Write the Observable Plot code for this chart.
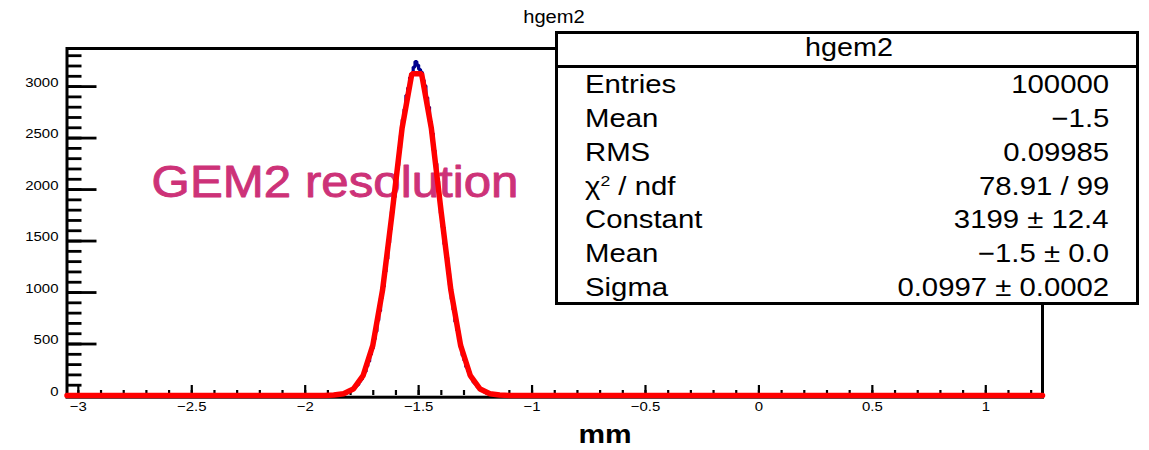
<!DOCTYPE html>
<html>
<head>
<meta charset="utf-8">
<script src="https://cdn.jsdelivr.net/npm/d3@7"></script>
<script src="https://cdn.jsdelivr.net/npm/@observablehq/plot@0.6"></script>
<style>
  html, body { margin: 0; padding: 0; background: #fff; }
  #wrap { position: relative; width: 1149px; height: 450px; overflow: hidden; font-family: "Liberation Sans", Arial, Helvetica, sans-serif; color: #000; }
  #wrap svg { position: absolute; left: 0; top: 0; }
  .t { position: absolute; white-space: nowrap; }
  #stats { position: absolute; left: 555px; top: 31px; width: 584px; height: 274px; box-sizing: border-box; border: 3px solid #000; background: #fff; }
  #stats .head { position: absolute; left: 0; right: 0; top: 0; height: 31px; border-bottom: 3px solid #000; }
  sup { font-size: 60%; vertical-align: 0; position: relative; top: -0.55em; }
</style>
</head>
<body>
<div id="wrap"></div>
<script>
// ---- data ----
const title = "hgem2";
const xTitle = "mm";
const annotation = "GEM2 resolution";

const xDomain = [-3.05, 1.25];
const yDomain = [0, 3370];
const xTicks = [-3, -2.5, -2, -1.5, -1, -0.5, 0, 0.5, 1];
const xTickLabels = ["\u22123", "\u22122.5", "\u22122", "\u22121.5", "\u22121", "\u22120.5", "0", "0.5", "1"];
const xMinor = [-3, -2.9, -2.8, -2.7, -2.6, -2.5, -2.4, -2.3, -2.2, -2.1, -2, -1.9, -1.8, -1.7, -1.6, -1.5, -1.4, -1.3, -1.2, -1.1, -1, -0.9, -0.8, -0.7, -0.6, -0.5, -0.4, -0.3, -0.2, -0.1, 0, 0.1, 0.2, 0.3, 0.4, 0.5, 0.6, 0.7, 0.8, 0.9, 1, 1.1, 1.2];
const yTicks = [0, 500, 1000, 1500, 2000, 2500, 3000];
const yTickLabels = ["0", "500", "1000", "1500", "2000", "2500", "3000"];
const yMinor = [0,100,200,300,400,500,600,700,800,900,1000,1100,1200,1300,1400,1500,1600,1700,1800,1900,2000,2100,2200,2300,2400,2500,2600,2700,2800,2900,3000,3100,3200,3300];

// histogram (bin counts, bins of width 0.008 starting at -1.908; zero elsewhere)
const binLo = -1.908;
const binWidth = 0.008;
const counts = [
  1,2,1,3,4,6,7,9,13,15,22,26,37,42,57,67,89,104,134,157,197,230,284,330,399,
  458,546,621,729,820,948,1057,1201,1325,1484,1618,1788,1925,2099,2234,2404,2526,2680,2781,2915,2988,3088,3126,3190,3243,
  3210,3168,3142,3064,3009,2893,2801,2658,2546,2381,2252,2081,1943,1770,1634,1468,1340,1186,1070,934,
  833,716,633,536,468,389,339,276,238,190,164,128,110,84,71,53,46,33,28,19,17,11,10,6,5,3,3,2,1,1
];

// Gaussian fit, as drawn (sampled points)
const fitX = [-3.05, -1.96, -1.917, -1.874, -1.831, -1.788, -1.745, -1.702, -1.659, -1.616, -1.573, -1.530, -1.487, -1.444, -1.401, -1.358, -1.315, -1.272, -1.229, -1.186, -1.143, -1.100, -1.057, 1.25];
const fitY = [0, 0, 1, 4, 17, 63, 192, 487, 1024, 1789, 2595, 3125, 3125, 2595, 1789, 1024, 487, 192, 63, 17, 4, 1, 0, 0];

// statistics box
const statsTitle = "hgem2";
const statLabels = ["Entries", "Mean", "RMS", "\u03C7<sup>2</sup> / ndf", "Constant", "Mean", "Sigma"];
const statValues = ["100000", "\u22121.5", "0.09985", "78.91 / 99", "3199 \u00B1 12.4", "\u22121.5 \u00B1 0.0", "0.0997 \u00B1 0.0002"];

// ---- build ----
const W = 1149, H = 450;
const mL = 66.5, mR = 107, mT = 48, mB = 55;
const FW = W - mL - mR, FH = H - mT - mB;
const SX = 1.15;      // horizontal text stretch of the reference
const SX_ANN = 1.095; // stretch of the annotation

const histPts = [{x: xDomain[0], y: 0}];
counts.forEach((c, i) => histPts.push({x: binLo + i * binWidth, y: c}));
histPts.push({x: binLo + counts.length * binWidth, y: 0});
histPts.push({x: xDomain[1], y: 0});

const fitPts = fitX.map((x, i) => ({x, y: fitY[i]}));

const chart = Plot.plot({
  width: W, height: H,
  marginLeft: mL, marginRight: mR, marginTop: mT, marginBottom: mB,
  x: {domain: xDomain, axis: null, label: null},
  y: {domain: yDomain, axis: null, label: null},
  style: {fontFamily: "Liberation Sans, Arial, Helvetica, sans-serif", background: "transparent", overflow: "visible"},
  marks: [
    Plot.text([annotation], {x: -2.677, y: 1925, text: d => d, textAnchor: "start", fontSize: 45, fill: "#cd3278", stroke: "#cd3278", strokeWidth: 0.9}),
    Plot.line(histPts, {x: "x", y: "y", curve: "step-after", stroke: "#00008f", strokeWidth: 3.2, strokeLinejoin: "miter"}),
    Plot.frame({stroke: "#000", strokeWidth: 3, insetBottom: -1.7}),
    Plot.tickY(yMinor, {y: d => d, stroke: "#000", strokeWidth: 2.8, insetRight: FW - 15}),
    Plot.tickY(yTicks, {y: d => d, stroke: "#000", strokeWidth: 2.8, insetRight: FW - 30}),
    Plot.tickX(xMinor, {x: d => d, stroke: "#000", strokeWidth: 2.2, insetTop: FH - 5}),
    Plot.tickX(xTicks, {x: d => d, stroke: "#000", strokeWidth: 2.2, insetTop: FH - 10}),
    Plot.text(yTicks, {y: d => d, text: (d, i) => yTickLabels[i], frameAnchor: "left", textAnchor: "end", dx: -8.5, fontSize: 13, fill: "#000"}),
    Plot.text(xTicks, {x: d => d, text: (d, i) => xTickLabels[i], frameAnchor: "bottom", lineAnchor: "top", dy: 15, fontSize: 13, fill: "#000"}),
    Plot.line(fitPts, {x: "x", y: "y", stroke: "#ff0000", strokeWidth: 5.5, strokeLinejoin: "miter"})
  ]
});

// stretch text horizontally around its anchor to match the reference
chart.querySelectorAll("text").forEach(el => {
  let tr = el.getAttribute("transform") || "";
  const x = el.getAttribute("x"), y = el.getAttribute("y");
  if (x != null || y != null) {
    tr += ` translate(${+x || 0},${+y || 0})`;
    el.removeAttribute("x"); el.removeAttribute("y");
  }
  const s = el.textContent === annotation ? SX_ANN : SX;
  el.setAttribute("transform", tr + ` scale(${s},1)`);
});

const wrap = document.getElementById("wrap");
wrap.appendChild(chart);

function place(parent, html, {left, right, center, baseline, size, weight = "normal"}) {
  const d = document.createElement("div");
  d.className = "t";
  d.innerHTML = html;
  d.style.fontSize = size + "px";
  d.style.lineHeight = size + "px";
  d.style.fontWeight = weight;
  d.style.top = (baseline - 0.8465 * size) + "px";
  if (left != null) { d.style.left = left + "px"; d.style.transformOrigin = "left center"; d.style.transform = `scaleX(${SX})`; }
  else if (right != null) { d.style.right = right + "px"; d.style.transformOrigin = "right center"; d.style.transform = `scaleX(${SX})`; }
  else { d.style.left = center + "px"; d.style.transformOrigin = "left center"; d.style.transform = `scaleX(${SX}) translateX(-50%)`; }
  parent.appendChild(d);
  return d;
}

// title and x-axis title
place(wrap, title, {center: 553.5, baseline: 24, size: 17.5});
place(wrap, xTitle, {center: 605, baseline: 443, size: 26, weight: "bold"});

// stats box
const box = document.createElement("div");
box.id = "stats";
wrap.appendChild(box);
const head = document.createElement("div");
head.className = "head";
box.appendChild(head);
// box content origin: (558, 34)
place(box, statsTitle, {center: 849 - 558, baseline: 56 - 34, size: 25});
statLabels.forEach((lab, i) => {
  const base = 94 + i * 33.7 - 34;
  place(box, lab, {left: 585 - 558, baseline: base, size: 25.5});
  place(box, statValues[i], {right: 1136 - 1109, baseline: base, size: 25.5});
});
</script>
</body>
</html>
